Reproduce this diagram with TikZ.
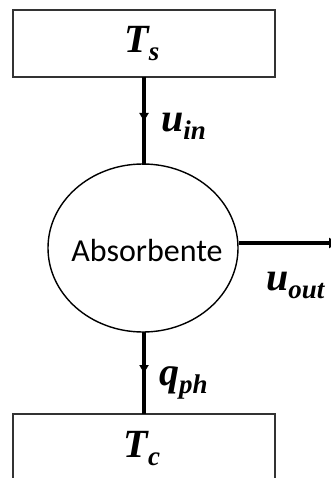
\documentclass[tikz,border=0pt]{standalone}
\usepackage{fontspec}
\setmainfont{Liberation Serif}
\newfontfamily\carlito{Carlito}
\usetikzlibrary{shapes.geometric,arrows.meta,decorations.markings}
\newcommand{\lbl}[2]{{\fontsize{40}{40}\selectfont\bfseries\itshape #1\raisebox{-0.2em}{\fontsize{27}{27}\selectfont #2}}}
\begin{document}
\begin{tikzpicture}[x=1pt,y=-1pt,
  boxst/.style={draw=black!80, line width=1.6pt, minimum width=262pt, minimum height=67pt, inner sep=0pt},
  flow/.style={line width=3.6pt},
  midarrow/.style={postaction={decorate}, decoration={markings, mark=at position #1 with {\arrow{Triangle[width=9pt,length=8pt]}}}},
  lab/.style={inner sep=0pt, anchor=base west}]
\useasboundingbox (0,0) rectangle (331,478);
\clip (0,0) rectangle (331,478);
\fill[white] (0,0) rectangle (331,478);
\node[boxst] (ts) at (144,43.5) {};
\node[anchor=base, inner sep=0pt] (tst) at (142,53) {\lbl{T}{s}};
\node[draw, line width=1.4pt, ellipse, minimum width=190pt, minimum height=168pt, inner sep=0pt] (ab) at (143,248) {};
\node[inner sep=0pt] (abt) at (147,251) {\carlito\fontsize{32}{32}\selectfont Absorbente};
\node[boxst] (tc) at (144,447.5) {};
\node[anchor=base, inner sep=0pt] (tct) at (142,457) {\lbl{T}{c}};
\coordinate (out) at (338,243);
\draw[flow, midarrow=0.5] (144,77) -- (144,165);
\draw[flow, midarrow=0.5] (144,332) -- (144,414);
\draw[flow, -{Triangle[width=10pt,length=9pt]}] (ab.east |- 0,243) -- (out);
\node[lab] (uin) at (161,132) {\lbl{u}{in}};
\node[lab] (qph) at (159,385) {\lbl{q}{ph}};
\node[lab] (uout) at (266,290) {\lbl{u}{out}};
\end{tikzpicture}
\end{document}
